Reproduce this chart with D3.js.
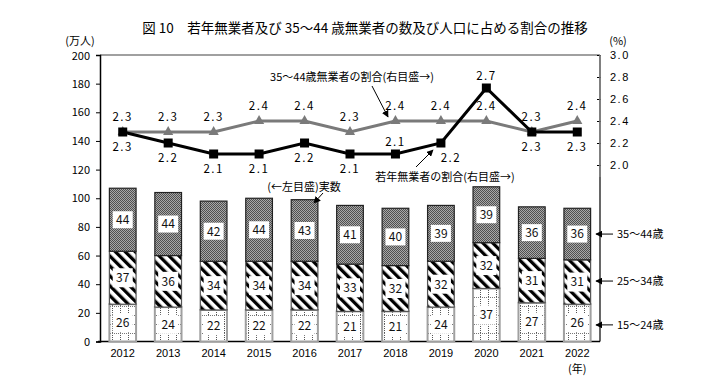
<!DOCTYPE html>
<html><head><meta charset="utf-8">
<script src="https://cdn.jsdelivr.net/npm/d3@7"></script>
<style>
html,body{margin:0;padding:0;background:#fff;}
svg{display:block;font-family:"Noto Sans CJK JP","Noto Sans",sans-serif;}
</style></head>
<body><svg id="chart" width="727" height="378"></svg>
<script>
const years = ["2012","2013","2014","2015","2016","2017","2018","2019","2020","2021","2022"];
const age15_24 = [26,24,22,22,22,21,21,24,37,27,26];
const age25_34 = [37,36,34,34,34,33,32,32,32,31,31];
const age35_44 = [44,44,42,44,43,41,40,39,39,36,36];
const ratioYouth = [2.3,2.2,2.1,2.1,2.2,2.1,2.1,2.2,2.7,2.3,2.3];
const ratio35_44 = [2.3,2.3,2.3,2.4,2.4,2.3,2.4,2.4,2.4,2.3,2.4];
const leftTicks = [0,20,40,60,80,100,120,140,160,180,200];
const rightTicks = [2.0,2.2,2.4,2.6,2.8,3.0];
const seriesNames = ["15～24歳","25～34歳","35～44歳"];
// label placement for youth ratio values (style)
const youthLabelPlace = ["below","below","below","below","below","below","above","belowright","above","below","below"];

const svg = d3.select("#chart");
const L = 100, R = 600, T = 55, B = 341.5;

const x = d3.scaleBand().domain(years).range([L, R]).paddingInner(0.38).paddingOuter(0.19);
const yL = d3.scaleLinear().domain([0, 200]).range([B, T]);
const yR = d3.scaleLinear().domain([2.0, 3.0]).range([165, 55]);

// patterns
const defs = svg.append("defs");
const pc = defs.append("pattern").attr("id","checker").attr("width",2).attr("height",2).attr("patternUnits","userSpaceOnUse");
pc.append("rect").attr("width",2).attr("height",2).attr("fill","#a8a8a8");
pc.append("rect").attr("width",1).attr("height",1).attr("fill","#505050");
pc.append("rect").attr("x",1).attr("y",1).attr("width",1).attr("height",1).attr("fill","#505050");

const ps = defs.append("pattern").attr("id","stripes").attr("width",7).attr("height",7)
  .attr("patternUnits","userSpaceOnUse").attr("patternTransform","rotate(-45)");
ps.append("rect").attr("width",7).attr("height",7).attr("fill","#fff");
ps.append("rect").attr("width",3.3).attr("height",7).attr("fill","#000");

const pd = defs.append("pattern").attr("id","dots").attr("width",8).attr("height",9).attr("patternUnits","userSpaceOnUse");
pd.append("rect").attr("width",8).attr("height",9).attr("fill","#fff");
pd.append("line").attr("x1",0.5).attr("x2",0.5).attr("y1",0).attr("y2",9).attr("stroke","#555").attr("stroke-width",1).attr("stroke-dasharray","1,1");
pd.append("line").attr("x1",0).attr("x2",8).attr("y1",0.5).attr("y2",0.5).attr("stroke","#777").attr("stroke-width",1).attr("stroke-dasharray","1,1");

const arrowM = defs.append("marker").attr("id","arr").attr("viewBox","0 0 10 10").attr("refX",9).attr("refY",5)
  .attr("markerWidth",7).attr("markerHeight",7).attr("orient","auto-start-reverse").attr("markerUnits","userSpaceOnUse");
arrowM.append("path").attr("d","M0,0L10,5L0,10z").attr("fill","#000");

// title
svg.append("text").attr("x",365).attr("y",33).attr("text-anchor","middle").attr("font-size",13.5)
  .text("図 10　若年無業者及び 35～44 歳無業者の数及び人口に占める割合の推移");

// axis units
svg.append("text").attr("x",80).attr("y",45).attr("text-anchor","middle").attr("font-size",11).text("(万人)");
svg.append("text").attr("x",618).attr("y",45).attr("text-anchor","middle").attr("font-size",11).text("(%)");

// frame
svg.append("line").attr("x1",L).attr("x2",R).attr("y1",T).attr("y2",T).attr("stroke","#808080").attr("stroke-width",1.5);
svg.append("line").attr("x1",R).attr("x2",R).attr("y1",T).attr("y2",B).attr("stroke","#000").attr("stroke-width",1.2);

// left axis
const gL = svg.append("g").attr("transform",`translate(${L},0)`)
  .call(d3.axisLeft(yL).tickValues(leftTicks).tickSize(4).tickPadding(6).tickFormat(d3.format("d")));
gL.select(".domain").attr("stroke","#000").attr("stroke-width",1.5);
gL.selectAll("text").attr("font-size",11).attr("font-family","'Noto Sans CJK JP'").attr("fill","#000");
gL.selectAll(".tick").filter(d=>d===200).select("text").attr("dy","0.45em");

// right axis
const gR = svg.append("g").attr("transform",`translate(${R},0)`)
  .call(d3.axisRight(yR).tickValues(rightTicks).tickSize(0).tickPadding(10).tickFormat(d3.format(".1f")));
gR.select(".domain").remove();
gR.selectAll(".tick").append("line").attr("x1",-3).attr("x2",1).attr("stroke","#000");
gR.selectAll("text").attr("font-size",11).attr("fill","#000").attr("letter-spacing",1.5);
svg.append("line").attr("x1",R).attr("x2",R).attr("y1",T).attr("y2",yR(2.0)+12).attr("stroke","#888").attr("stroke-width",1.5);

// bottom axis
const gB = svg.append("g").attr("transform",`translate(0,${B})`)
  .call(d3.axisBottom(x).tickSize(0).tickPadding(8));
gB.select(".domain").attr("stroke","#000").attr("stroke-width",1.5).attr("d",`M${L-2},0H${R}`);
gB.selectAll("text").attr("font-size",11).attr("fill","#000");
svg.append("text").attr("x",x("2022")+x.bandwidth()/2).attr("y",373).attr("text-anchor","middle").attr("font-size",11).text("(年)");

// stacked bars
const rows = years.map((yr,i)=>({year:yr, a:age15_24[i], b:age25_34[i], c:age35_44[i]}));
const stack = d3.stack().keys(["a","b","c"])(rows);
const fills = {a:"url(#dots)", b:"url(#stripes)", c:"url(#checker)"};
const strokes = {a:"#a0a0a0", b:"#555", c:"#222"};
const bw = x.bandwidth();
stack.forEach(layer=>{
  const g = svg.append("g");
  g.selectAll("rect").data(layer).join("rect")
    .attr("x", d=>x(d.data.year)+0.75).attr("width", bw-1.5)
    .attr("y", d=>yL(d[1])).attr("height", d=>yL(d[0])-yL(d[1]))
    .attr("fill", fills[layer.key]).attr("stroke", strokes[layer.key]).attr("stroke-width", layer.key==="a"?2:1.2);
});
// value boxes
stack.forEach(layer=>{
  const g = svg.append("g");
  const cells = g.selectAll("g").data(layer).join("g")
    .attr("transform", d=>`translate(${x(d.data.year)+bw/2},${(yL(d[0])+yL(d[1]))/2})`);
  const h = layer.key==="c"?17:19;
  cells.append("rect").attr("x",-10).attr("y",-h/2).attr("width",20).attr("height",h).attr("fill","#fff");
  cells.append("text").attr("text-anchor","middle").attr("dy","0.36em").attr("font-size",12).attr("fill","#111")
    .text(d=>d.data[layer.key]);
});

// lines
const cx = d=>x(d)+bw/2;
const lineGen = d3.line().x(d=>cx(d[0])).y(d=>yR(d[1]));
const grayPts = years.map((y,i)=>[y, ratio35_44[i]]);
const blackPts = years.map((y,i)=>[y, ratioYouth[i]]);
svg.append("path").attr("d",lineGen(grayPts)).attr("fill","none").attr("stroke","#7a7a7a").attr("stroke-width",3);
svg.append("path").attr("d",lineGen(blackPts)).attr("fill","none").attr("stroke","#000").attr("stroke-width",3);
svg.append("g").selectAll("path").data(grayPts).join("path")
  .attr("d", d3.symbol().type(d3.symbolTriangle).size(45))
  .attr("transform", d=>`translate(${cx(d[0])},${yR(d[1])})`).attr("fill","#7a7a7a");
svg.append("g").selectAll("rect").data(blackPts).join("rect")
  .attr("x", d=>cx(d[0])-4.5).attr("y", d=>yR(d[1])-4.5).attr("width",9).attr("height",9).attr("fill","#000");

// value labels
svg.append("g").selectAll("text").data(grayPts).join("text")
  .attr("x", d=>cx(d[0])).attr("y", d=>yR(d[1])-15).attr("dy","0.36em").attr("text-anchor","middle")
  .attr("font-size",11.5).attr("letter-spacing",1.5).text(d=>d[1].toFixed(1));
svg.append("g").selectAll("text").data(blackPts).join("text")
  .attr("x", (d,i)=>cx(d[0]) + (youthLabelPlace[i]==="belowright"?10:0))
  .attr("y", (d,i)=>yR(d[1]) + (youthLabelPlace[i]==="above"?-12:15))
  .attr("dy","0.36em").attr("text-anchor","middle")
  .attr("font-size",11.5).attr("letter-spacing",1.5).text(d=>d[1].toFixed(1));

// annotations
function note(txt, tx, ty, x1, y1, x2, y2){
  svg.append("text").attr("x",tx).attr("y",ty).attr("dy","0.36em").attr("text-anchor","middle").attr("font-size",11).text(txt);
  svg.append("line").attr("x1",x1).attr("y1",y1).attr("x2",x2).attr("y2",y2).attr("stroke","#000").attr("stroke-width",1).attr("marker-end","url(#arr)");
}
note("35～44歳無業者の割合(右目盛→)", 352, 77, 372, 86, 388, 117);
note("若年無業者の割合(右目盛→)", 445, 177, 416, 167, 433, 150);
note("(←左目盛)実数", 304, 187, 323, 193, 314, 203);

// right legend
const legendY = stack.map(layer=>{ const d = layer[layer.length-1]; return (yL(d[0])+yL(d[1]))/2; });
const legendYs = [legendY[0]+2, legendY[1]-1, legendY[2]];
seriesNames.forEach((nm,i)=>{
  const yy = legendYs[i];
  svg.append("line").attr("x1",613).attr("x2",596).attr("y1",yy).attr("y2",yy).attr("stroke","#000").attr("stroke-width",1).attr("marker-end","url(#arr)");
  svg.append("text").attr("x",617).attr("y",yy).attr("dy","0.36em").attr("font-size",11).text(nm);
});
</script></body></html>
